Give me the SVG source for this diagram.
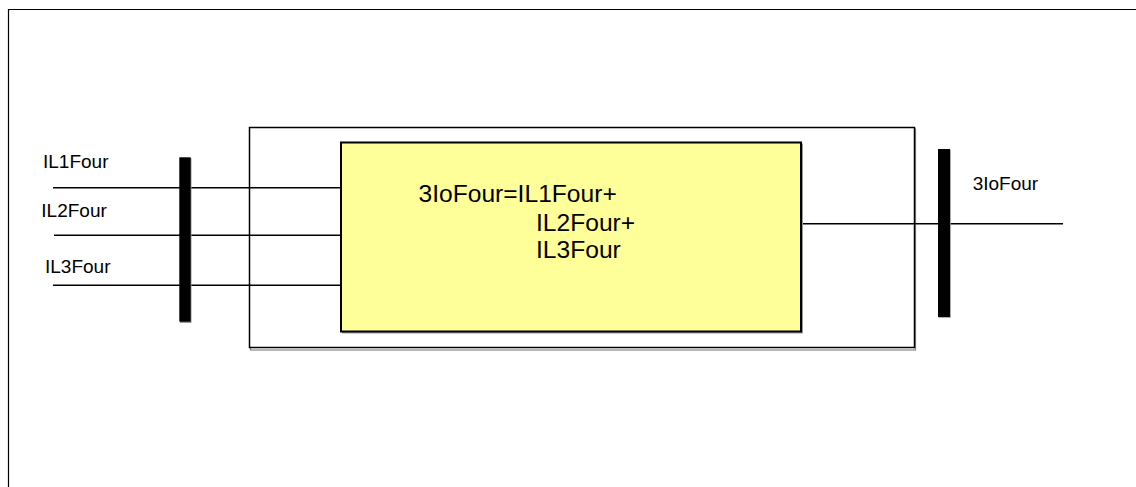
<svg xmlns="http://www.w3.org/2000/svg" width="1136" height="487" viewBox="0 0 1136 487">
<style>
.t{font-family:"Liberation Sans",Arial,sans-serif;fill:#000}
.lbl{font-size:19px}
.main{font-size:24.6px}
.wire{stroke:#000;stroke-width:1.5;fill:none}
.bar{fill:#000}
.shadow{fill:#999}
</style>
<rect width="1136" height="487" fill="#fff"/>
<g id="frame">
<path d="M8.5 487 V9.5 H1136" fill="none" stroke="#000" stroke-width="1.2"/>
</g>
<g id="outer-box">
<rect x="250.5" y="129" width="665" height="221" fill="none" stroke="#888" stroke-width="1.2"/>
<rect x="249.5" y="127.5" width="665" height="220" fill="#fff" stroke="#000" stroke-width="1.5"/>
</g>
<g id="connectors">
<line class="wire" x1="53" y1="187.7" x2="341" y2="187.7"/>
<line class="wire" x1="54" y1="235.3" x2="343" y2="235.3"/>
<line class="wire" x1="53" y1="285.3" x2="341" y2="285.3"/>
<line class="wire" x1="801" y1="223.7" x2="1063" y2="223.7"/>
</g>
<g id="calc-block">
<rect x="342" y="143.5" width="461" height="190" class="shadow"/>
<rect x="341" y="142.5" width="460" height="189" fill="#ffff99" stroke="#000" stroke-width="2"/>
<text class="t main" x="418.5" y="201.5">3IoFour=IL1Four+</text>
<text class="t main" x="536" y="230.5">IL2Four+</text>
<text class="t main" x="536" y="258">IL3Four</text>
</g>
<g id="input-bus">
<rect x="180" y="158" width="11.5" height="165" class="shadow"/>
<rect x="179.3" y="157.3" width="11.4" height="164.4" class="bar"/>
</g>
<g id="output-bus">
<rect x="938.8" y="149.8" width="12" height="168" class="shadow"/>
<rect x="938" y="149" width="12" height="168" class="bar"/>
</g>
<g id="labels">
<text class="t lbl" x="43" y="168">IL1Four</text>
<text class="t lbl" x="41.3" y="216.7">IL2Four</text>
<text class="t lbl" x="45" y="272.7">IL3Four</text>
<text class="t lbl" x="972.7" y="190">3IoFour</text>
</g>
</svg>
